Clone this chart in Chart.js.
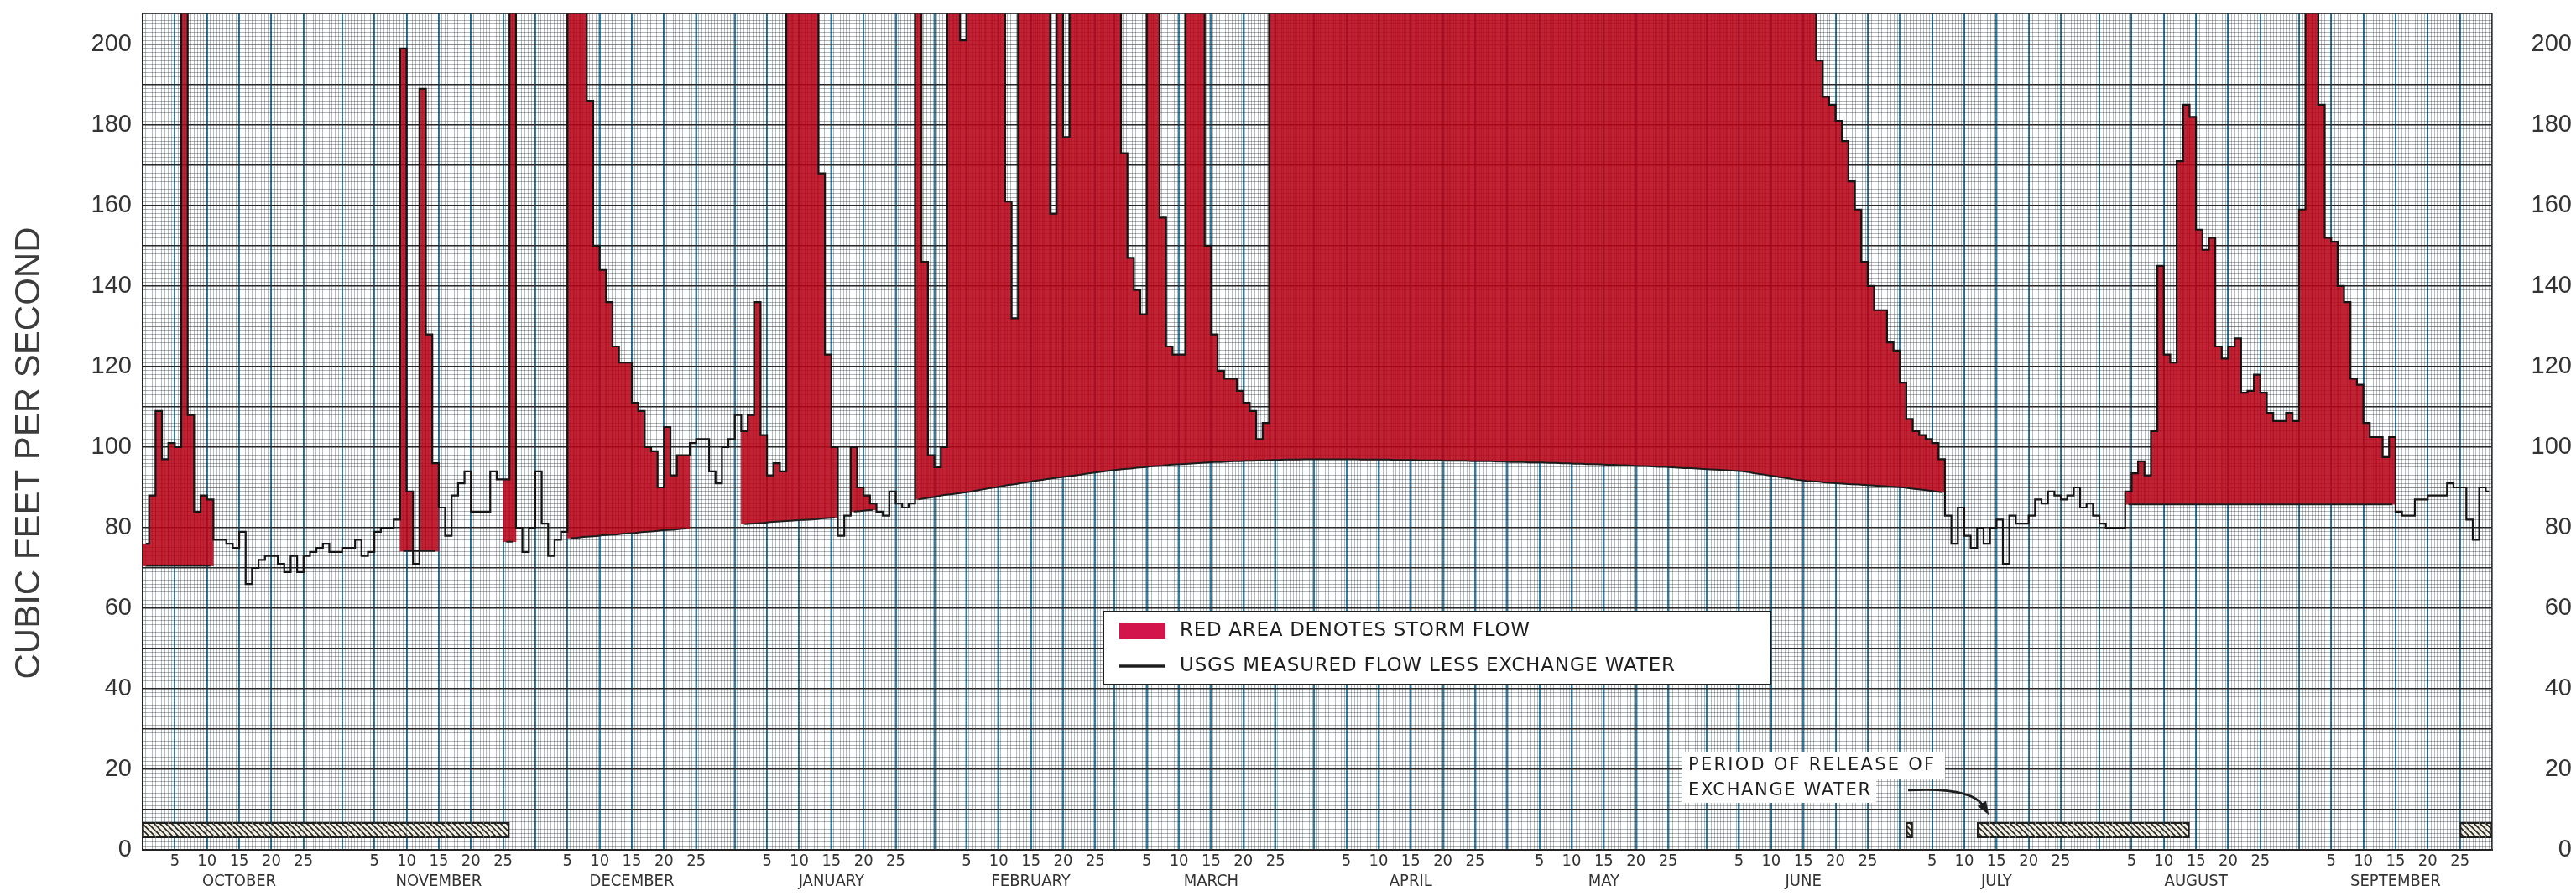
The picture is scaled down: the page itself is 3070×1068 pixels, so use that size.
<!DOCTYPE html>
<html>
<head>
<meta charset="utf-8">
<script src="https://cdn.jsdelivr.net/npm/chart.js@4.4.1/dist/chart.umd.min.js"></script>
<style>
  html, body { margin: 0; padding: 0; background: #ffffff; }
  #wrap { width: 3070px; height: 1068px; position: relative; }
  canvas { display: block; }
</style>
</head>
<body>
<div id="wrap"><canvas id="c" width="3070" height="1068"></canvas></div>
<script>
// ---------------- DATA (water year, Oct 1 .. Sep 30, daily) ----------------
const monthNames = ['OCTOBER','NOVEMBER','DECEMBER','JANUARY','FEBRUARY','MARCH','APRIL','MAY','JUNE','JULY','AUGUST','SEPTEMBER'];
const monthAbbr  = ['Oct','Nov','Dec','Jan','Feb','Mar','Apr','May','Jun','Jul','Aug','Sep'];
const monthDays  = [31,30,31,31,28,31,30,31,30,31,31,30];
const dayTickLabels = [5,10,15,20,25];
const yTickLabels = [0,20,40,60,80,100,120,140,160,180,200];

// USGS measured flow less exchange water (cfs), daily; values above the chart top are estimates
const flowOct = [76,88,109,97,101,100,250,108,84,88,87,77,77,76,75,79,66,70,72,73,73,71,69,73,69,73,74,75,76,74,74];
const flowNov = [75,75,77,73,74,79,80,80,82,199,89,71,189,128,96,85,78,88,91,94,84,84,84,94,92,92,250,80,74,80];
const flowDec = [94,81,73,77,79,250,250,250,186,150,144,136,125,121,121,111,109,100,99,90,105,93,98,98,101,102,102,94,91,100,102];
const flowJan = [108,104,108,136,103,93,96,94,250,250,250,250,250,168,123,100,78,83,100,90,88,86,84,83,89,86,85,86,250,146,98];
const flowFeb = [95,100,250,250,201,250,250,250,250,250,250,161,132,250,250,250,250,250,158,250,177,250,250,250,250,250,250,250];
const flowMar = [250,173,147,139,133,250,250,157,125,123,123,250,250,250,150,128,119,117,117,114,111,109,102,106,250,250,250,250,250,250,250];
const flowApr = [250,250,250,250,250,250,250,250,250,250,250,250,250,250,250,250,250,250,250,250,250,250,250,250,250,250,250,250,250,250];
const flowMay = [250,250,250,250,250,250,250,250,250,250,250,250,250,250,250,250,250,250,250,250,250,250,250,250,250,250,250,250,250,250,250];
const flowJun = [250,250,250,250,250,250,250,250,250,250,250,250,250,250,250,250,250,196,187,185,181,176,166,159,146,140,134,134,126,124];
const flowJul = [116,107,104,103,102,101,97,83,76,85,78,75,80,76,80,82,71,83,81,81,83,87,86,89,88,87,88,90,85,86,83];
const flowAug = [81,80,80,80,89,93.5,96.5,93,104,145,123,121,171,185,182,154,149,152,125,122,125,127,113.5,114,118,113.5,108.5,106.5,106.5,108.5,106.5];
const flowSep = [159,250,250,185,152,151,140,136,117,115.5,106,102.5,102.5,97.5,102.5,84,83,83,87,87,88,88,88,91,90,90,82,77,90,89];

// Base flow line drawn under storm periods (cfs); null where no storm separation is drawn
const baseOct = [70.5,70.5,70.5,70.5,70.5,70.5,70.5,70.5,70.5,70.5,70.5,null,null,null,null,null,null,null,null,null,null,null,null,null,null,null,null,null,null,null,null];
const baseNov = [null,null,null,null,null,null,null,null,null,74.2,74.2,74.2,74.2,74.2,74.2,null,null,null,null,null,null,null,null,null,null,76.5,76.5,null,null,null];
const baseDec = [null,null,null,null,null,77.4,77.5,77.7,77.8,77.9,78.1,78.2,78.3,78.5,78.6,78.7,78.9,79.0,79.1,79.3,79.4,79.5,79.7,79.8,null,null,null,null,null,null,null];
const baseJan = [null,80.9,81.0,81.1,81.2,81.4,81.5,81.6,81.7,81.8,81.9,82.0,82.1,82.3,82.4,82.5,null,null,84.0,84.1,84.3,84.4,null,null,null,null,null,null,87.0,87.3,87.5];
const baseFeb = [87.8,88.1,88.3,88.5,88.7,88.9,89.2,89.5,89.8,90.0,90.3,90.6,90.8,91.1,91.3,91.6,91.8,92.1,92.3,92.5,92.7,92.9,93.1,93.4,93.6,93.8,94.0,94.2];
const baseMar = [94.4,94.6,94.7,94.9,95.0,95.2,95.3,95.4,95.6,95.7,95.8,95.9,96.0,96.1,96.2,96.3,96.3,96.4,96.5,96.5,96.6,96.6,96.7,96.7,96.8,96.8,96.9,96.9,96.9,97.0,97.0];
const baseApr = [97.0,97.0,97.0,97.0,97.0,97.0,97.0,96.9,96.9,96.9,96.9,96.9,96.8,96.8,96.8,96.8,96.7,96.7,96.7,96.7,96.6,96.6,96.6,96.6,96.5,96.5,96.5,96.5,96.4,96.4];
const baseMay = [96.3,96.3,96.3,96.2,96.2,96.2,96.1,96.1,96.0,96.0,95.9,95.9,95.8,95.8,95.7,95.6,95.6,95.5,95.5,95.4,95.3,95.3,95.2,95.1,95.1,95.0,94.9,94.8,94.8,94.7,94.6];
const baseJun = [94.5,94.4,94.3,94.2,94.1,94.0,93.8,93.5,93.3,93.0,92.8,92.5,92.3,92.0,91.8,91.6,91.5,91.4,91.2,91.1,91.0,90.9,90.8,90.7,90.6,90.5,90.4,90.3,90.2,90.1];
const baseJul = [90.0,89.8,89.6,89.4,89.2,89.0,88.8,null,null,null,null,null,null,null,null,null,null,null,null,null,null,null,null,null,null,null,null,null,null,null,null];
const baseAug = [null,null,null,null,85.8,85.8,85.8,85.8,85.8,85.8,85.8,85.8,85.8,85.8,85.8,85.8,85.8,85.8,85.8,85.8,85.8,85.8,85.8,85.8,85.8,85.8,85.8,85.8,85.8,85.8,85.8];
const baseSep = [85.8,85.8,85.8,85.8,85.8,85.8,85.8,85.8,85.8,85.8,85.8,85.8,85.8,85.8,85.8,null,null,null,null,null,null,null,null,null,null,null,null,null,null,null];

// Periods of release of exchange water (first day, last day) and the band drawn for them
const releaseStart = ['Oct 1','Jul 2','Jul 13','Sep 26'];
const releaseEnd   = ['Nov 26','Jul 2','Aug 14','Sep 30'];
const releaseBand  = [3, 6.8];

// ---------------- BUILD TABLES FOR THE LIBRARY ----------------
const labels = [], dom = [], mon = [];
monthDays.forEach((n, m) => { for (let d = 1; d <= n; d++) { labels.push(monthAbbr[m] + ' ' + d); dom.push(d); mon.push(m); } });
const flow = [].concat(flowOct, flowNov, flowDec, flowJan, flowFeb, flowMar, flowApr, flowMay, flowJun, flowJul, flowAug, flowSep);
const base = [].concat(baseOct, baseNov, baseDec, baseJan, baseFeb, baseMar, baseApr, baseMay, baseJun, baseJul, baseAug, baseSep);
const storm = flow.map((f, i) => (base[i] !== null && f > base[i]) ? [base[i], f] : null);
const release = labels.map(() => null);
releaseStart.forEach((s, k) => {
  const a = labels.indexOf(s), b = labels.indexOf(releaseEnd[k]);
  for (let i = a; i <= b; i++) release[i] = releaseBand;
});

// ---------------- STYLE ----------------
const HEAVY_V = '#2c7fab';
const HEAVY_H = '#262626';
const FINE_V  = 'rgba(25,55,70,0.34)';
const FINE_H  = 'rgba(25,28,32,0.34)';
const NUM_FONT = "'Liberation Sans', Arial, sans-serif";
const COND_FONT = "'DejaVu Sans Condensed', 'Liberation Sans Narrow', 'DejaVu Sans', sans-serif";
const LETTER_FONT = "'DejaVu Sans', 'Liberation Sans', sans-serif";

function makeHatch() {
  const s = 7, c = document.createElement('canvas');
  c.width = s; c.height = s;
  const g = c.getContext('2d');
  g.fillStyle = '#f2efe0'; g.fillRect(0, 0, s, s);
  g.strokeStyle = '#222'; g.lineWidth = 1.6;
  g.beginPath();
  g.moveTo(0, 0); g.lineTo(s, s);
  g.moveTo(-2, s - 2); g.lineTo(2, s + 2);
  g.moveTo(s - 2, -2); g.lineTo(s + 2, 2);
  g.stroke();
  return document.getElementById('c').getContext('2d').createPattern(c, 'repeat');
}
const hatch = makeHatch();

function heavyBoundary(i) {
  if (i <= 0 || i >= dom.length) return true;
  return [1, 6, 11, 16, 21, 26].includes(dom[i]);
}
function xLabel(i) {
  const d = dom[i];
  if (d === 15) return ['15', monthNames[mon[i]]];
  if (dayTickLabels.includes(d)) return String(d);
  return '';
}
function yLabel(v) { return yTickLabels.includes(v) ? String(v) : ''; }

function fitText(ctx, text, x, y, w) {
  ctx.save();
  ctx.textAlign = 'left';
  ctx.textBaseline = 'middle';
  if ('letterSpacing' in ctx) {
    ctx.letterSpacing = '0px';
    const w0 = ctx.measureText(text).width;
    ctx.letterSpacing = ((w - w0) / (text.length - 1)).toFixed(2) + 'px';
    ctx.fillText(text, x, y);
  } else {
    const w0 = ctx.measureText(text).width;
    ctx.translate(x, y); ctx.scale(w / w0, 1); ctx.fillText(text, 0, 0);
  }
  ctx.restore();
}

const decorations = {
  id: 'decorations',
  afterDraw(chart) {
    const ctx = chart.ctx, a = chart.chartArea;
    ctx.save();
    // top edge of the plotting paper
    ctx.strokeStyle = '#2a2a2a'; ctx.lineWidth = 1.6;
    ctx.beginPath(); ctx.moveTo(a.left, a.top); ctx.lineTo(a.right, a.top); ctx.stroke();

    // axis title
    ctx.save();
    ctx.translate(35, 540); ctx.rotate(-Math.PI / 2);
    ctx.font = '42px ' + NUM_FONT; ctx.fillStyle = '#3c3c3c';
    ctx.textAlign = 'center'; ctx.textBaseline = 'middle';
    ctx.fillText('CUBIC FEET PER SECOND', 0, 0);
    ctx.restore();

    // legend box
    ctx.fillStyle = '#ffffff'; ctx.fillRect(1315, 729, 795, 87);
    ctx.strokeStyle = '#1e1e1e'; ctx.lineWidth = 2; ctx.strokeRect(1315, 729, 795, 87);
    ctx.fillStyle = '#d2164c'; ctx.fillRect(1334, 742, 55, 20);
    ctx.strokeStyle = '#1e1e1e'; ctx.lineWidth = 3.5;
    ctx.beginPath(); ctx.moveTo(1334, 794); ctx.lineTo(1389, 794); ctx.stroke();
    ctx.fillStyle = '#1e1e1e'; ctx.font = '23px ' + LETTER_FONT;
    fitText(ctx, 'RED AREA DENOTES STORM FLOW', 1406, 752, 417);
    fitText(ctx, 'USGS MEASURED FLOW LESS EXCHANGE WATER', 1406, 794, 590);

    // annotation for the exchange water release periods
    ctx.fillStyle = '#ffffff';
    ctx.fillRect(2004, 896, 314, 33);
    ctx.fillRect(2004, 929, 232, 28);
    ctx.fillStyle = '#1e1e1e'; ctx.font = '21px ' + LETTER_FONT;
    fitText(ctx, 'PERIOD OF RELEASE OF', 2012, 913, 293);
    fitText(ctx, 'EXCHANGE WATER', 2012, 943, 217);
    // curved arrow
    const sx = 2274, sy = 942, cx = 2350, cy = 938, ex = 2364, ey = 961;
    ctx.strokeStyle = '#1e1e1e'; ctx.lineWidth = 2.6;
    ctx.beginPath(); ctx.moveTo(sx, sy); ctx.quadraticCurveTo(cx, cy, ex, ey); ctx.stroke();
    let dx = ex - cx, dy = ey - cy; const L = Math.hypot(dx, dy); dx /= L; dy /= L;
    const tipX = ex + dx * 12, tipY = ey + dy * 12;
    ctx.beginPath();
    ctx.moveTo(tipX, tipY);
    ctx.lineTo(ex - dx * 4 - dy * 6, ey - dy * 4 + dx * 6);
    ctx.lineTo(ex - dx * 4 + dy * 6, ey - dy * 4 - dx * 6);
    ctx.closePath(); ctx.fillStyle = '#1e1e1e'; ctx.fill();
    ctx.restore();
  }
};

new Chart(document.getElementById('c'), {
  type: 'bar',
  data: {
    labels: labels,
    datasets: [
      { type: 'line', label: 'USGS measured flow less exchange water', data: flow, stepped: 'middle',
        borderColor: '#141414', borderWidth: 2.2, pointRadius: 0, fill: false, order: 1, clip: 0 },
      { type: 'line', label: 'Base flow', data: base, borderColor: '#1c1c1c', borderWidth: 2,
        pointRadius: 0, spanGaps: false, tension: 0, fill: false, order: 2, clip: 0 },
      { type: 'bar', label: 'Storm flow', data: storm, backgroundColor: 'rgba(182,4,24,0.88)',
        borderWidth: 0, barPercentage: 1, categoryPercentage: 1, grouped: false, order: 3, clip: 0 },
      { type: 'bar', label: 'Release of exchange water', data: release, backgroundColor: hatch,
        borderColor: '#1e1e1e', borderSkipped: false,
        borderWidth: (c) => {
          const i = c.dataIndex, on = (k) => release[k] != null;
          return { top: 2, bottom: 2, left: on(i - 1) ? 0 : 2, right: on(i + 1) ? 0 : 2 };
        },
        barPercentage: 1, categoryPercentage: 1, grouped: false, order: 3, clip: 0 }
    ]
  },
  options: {
    responsive: false,
    devicePixelRatio: 1,
    animation: false,
    events: [],
    layout: { padding: { top: 16, right: 5, bottom: 0, left: 0 } },
    plugins: { legend: { display: false }, tooltip: { enabled: false }, title: { display: false } },
    scales: {
      x: {
        type: 'category', position: 'bottom', offset: true,
        grid: { offset: true, drawTicks: false,
          color: (c) => heavyBoundary(c.index) ? HEAVY_V : 'rgba(0,0,0,0)',
          lineWidth: (c) => heavyBoundary(c.index) ? 2 : 0 },
        border: { display: true, color: '#222', width: 2 },
        ticks: { autoSkip: false, maxRotation: 0, minRotation: 0, padding: 2, labelOffset: 3.84,
          color: '#333', font: { family: COND_FONT, size: 20, lineHeight: 1.2 },
          callback: (v, i) => xLabel(i) },
        afterFit: (s) => { s.height = 55; s.paddingLeft = 0; s.paddingRight = 0; }
      },
      xf: {
        type: 'linear', position: 'bottom', min: 0, max: 365,
        grid: { drawTicks: false, color: FINE_V, lineWidth: 1 },
        border: { display: false },
        ticks: { display: false, stepSize: 0.5 },
        afterFit: (s) => { s.height = 0; s.paddingLeft = 0; s.paddingRight = 0; }
      },
      y: {
        type: 'linear', position: 'left', min: 0, max: 207.7,
        grid: { drawTicks: false,
          color: (c) => (Number.isInteger(c.tick.value) && c.tick.value % 10 === 0) ? HEAVY_H : FINE_H,
          lineWidth: (c) => (Number.isInteger(c.tick.value) && c.tick.value % 10 === 0) ? 1.6 : 1 },
        border: { display: true, color: '#222', width: 2 },
        ticks: { stepSize: 1, autoSkip: false, padding: 13, color: '#333',
          font: { family: NUM_FONT, size: 29 }, callback: (v) => yLabel(v) },
        afterFit: (s) => { s.width = 170; s.paddingTop = 0; s.paddingBottom = 0; }
      },
      yR: {
        type: 'linear', position: 'right', min: 0, max: 207.7,
        grid: { display: false, drawTicks: false },
        border: { display: true, color: '#333', width: 1.5 },
        ticks: { stepSize: 1, autoSkip: false, crossAlign: 'far', color: '#333',
          font: { family: NUM_FONT, size: 29 }, callback: (v) => yLabel(v) },
        afterFit: (s) => { s.width = 95; s.paddingTop = 0; s.paddingBottom = 0; }
      }
    }
  },
  plugins: [decorations]
});
</script>
</body>
</html>
